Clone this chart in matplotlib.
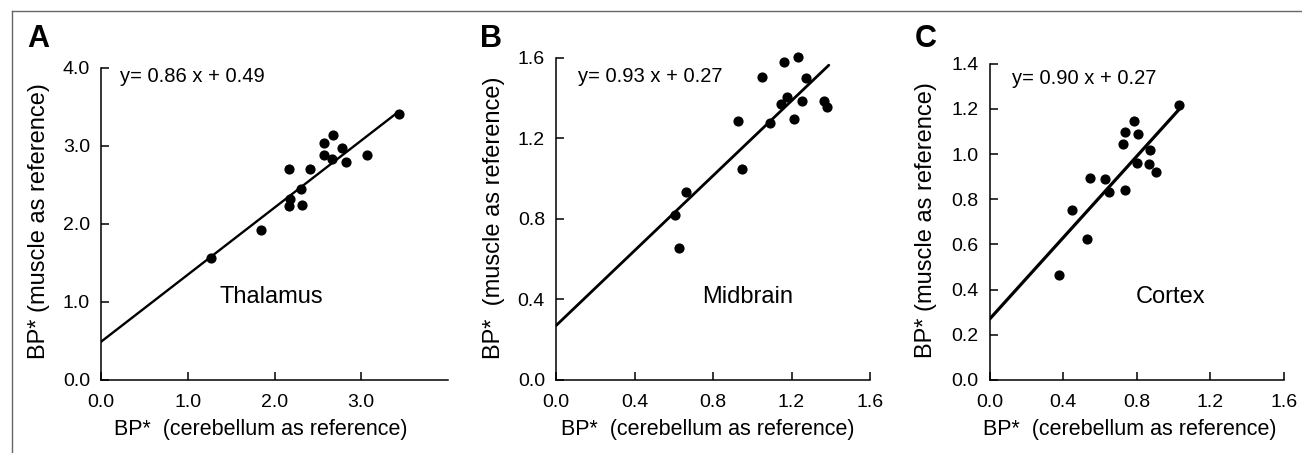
import matplotlib
matplotlib.use('Agg')
import matplotlib.pyplot as plt
from matplotlib.lines import Line2D

plt.rcParams['font.family'] = ['Liberation Sans', 'DejaVu Sans']

# Panel A - Thalamus
thal_x = [1.27, 1.85, 2.17, 2.18, 2.17, 2.30, 2.32, 2.41, 2.57, 2.57, 2.68, 2.66, 2.78, 2.82, 3.07, 3.44]
thal_y = [1.57, 1.92, 2.71, 2.32, 2.23, 2.45, 2.25, 2.71, 3.04, 2.88, 3.14, 2.83, 2.98, 2.79, 2.88, 3.41]

# Panel B - Midbrain
mid_x = [0.608, 0.628, 0.662, 0.927, 0.947, 1.051, 1.088, 1.146, 1.175, 1.163, 1.231, 1.211, 1.255, 1.273, 1.365, 1.379]
mid_y = [0.820, 0.656, 0.932, 1.288, 1.045, 1.505, 1.277, 1.369, 1.407, 1.578, 1.604, 1.295, 1.387, 1.498, 1.387, 1.354]

# Panel C - Cortex
cor_x = [0.377, 0.448, 0.528, 0.548, 0.628, 0.650, 0.728, 0.737, 0.737, 0.788, 0.808, 0.800, 0.871, 0.866, 0.907, 1.031]
cor_y = [0.466, 0.752, 0.622, 0.895, 0.888, 0.832, 1.043, 1.099, 0.839, 1.146, 1.091, 0.960, 1.018, 0.956, 0.922, 1.217]

# regression: slope, intercept, end of fitted line
fits = [(0.86, 0.49, 3.43), (0.93, 0.27, 1.39), (0.90, 0.27, 1.03)]
regions = ['Thalamus', 'Midbrain', 'Cortex']
letters = ['A', 'B', 'C']

W, H = 1302, 453
fig = plt.figure(figsize=(W / 100, H / 100), dpi=100)

def fx(x):
    return x / W

def fy(y):
    return 1 - y / H

# axes boxes in pixels: left, right, top, bottom
boxes = [(101, 448, 68, 380), (556, 870, 57.7, 380), (989.7, 1283.7, 63.7, 380)]
xlims = [4.0, 1.6, 1.6]
ylims = [4.0, 1.6, 1.4]
xticks = [[0, 1, 2, 3], [0, 0.4, 0.8, 1.2, 1.6], [0, 0.4, 0.8, 1.2, 1.6]]
yticks = [[0, 1, 2, 3, 4], [0, 0.4, 0.8, 1.2, 1.6], [0, 0.2, 0.4, 0.6, 0.8, 1.0, 1.2, 1.4]]
line_w = [1.7, 2.0, 2.3]
eq_pos = [(120, 77), (578, 77), (1012, 78)]
reg_pos = [(271, 297), (748, 297), (1171, 297)]
letter_pos = [(27, 39), (480, 39), (915, 39)]
xlab_pos = [(261, 430), (708, 430), (1130, 430)]
ylab_pos = [(39, 221), (494, 218), (926, 220)]
ylabels = ['BP* (muscle as reference)', 'BP*  (muscle as reference)', 'BP* (muscle as reference)']
data = [(thal_x, thal_y), (mid_x, mid_y), (cor_x, cor_y)]

for i in range(3):
    l, r, t, b = boxes[i]
    ax = fig.add_axes([fx(l), fy(b), (r - l) / W, (b - t) / H])
    xs, ys = data[i]
    ax.scatter(xs, ys, s=40, color='black', zorder=3, clip_on=False)
    m, c, xend = fits[i]
    ax.plot([0, xend], [c, m * xend + c], color='black', lw=line_w[i], solid_capstyle='round')
    ax.set_xlim(0, xlims[i])
    ax.set_ylim(0, ylims[i])
    ax.set_xticks(xticks[i])
    ax.set_yticks(yticks[i])
    ax.set_xticklabels(['%.1f' % v for v in xticks[i]])
    ax.set_yticklabels(['%.1f' % v for v in yticks[i]])
    ax.tick_params(direction='in', length=6, width=1.1, labelsize=14)
    ax.tick_params(axis='x', pad=10)
    ax.tick_params(axis='y', pad=8)
    for s in ['top', 'right']:
        ax.spines[s].set_visible(False)
    for s in ['left', 'bottom']:
        ax.spines[s].set_linewidth(1.1)

    fig.text(fx(eq_pos[i][0]), fy(eq_pos[i][1]), 'y= %.2f x + %.2f' % (m, c),
             ha='left', va='center', fontsize=14.5)
    fig.text(fx(reg_pos[i][0]), fy(reg_pos[i][1]), regions[i],
             ha='center', va='center', fontsize=17)
    fig.text(fx(letter_pos[i][0]), fy(letter_pos[i][1]), letters[i],
             ha='left', va='center', fontsize=22, fontweight='bold')
    fig.text(fx(xlab_pos[i][0]), fy(xlab_pos[i][1]), 'BP*  (cerebellum as reference)',
             ha='center', va='center', fontsize=15.5)
    fig.text(fx(ylab_pos[i][0]), fy(ylab_pos[i][1]), ylabels[i],
             ha='center', va='center', fontsize=17, rotation=90)

# thin grey frame on top and left
fig.add_artist(Line2D([fx(12), fx(12)], [fy(11), 0], color='#666666', lw=1.0))
fig.add_artist(Line2D([fx(12), 1], [fy(11), fy(11)], color='#666666', lw=1.0))

fig.savefig('out.png', dpi=100)
